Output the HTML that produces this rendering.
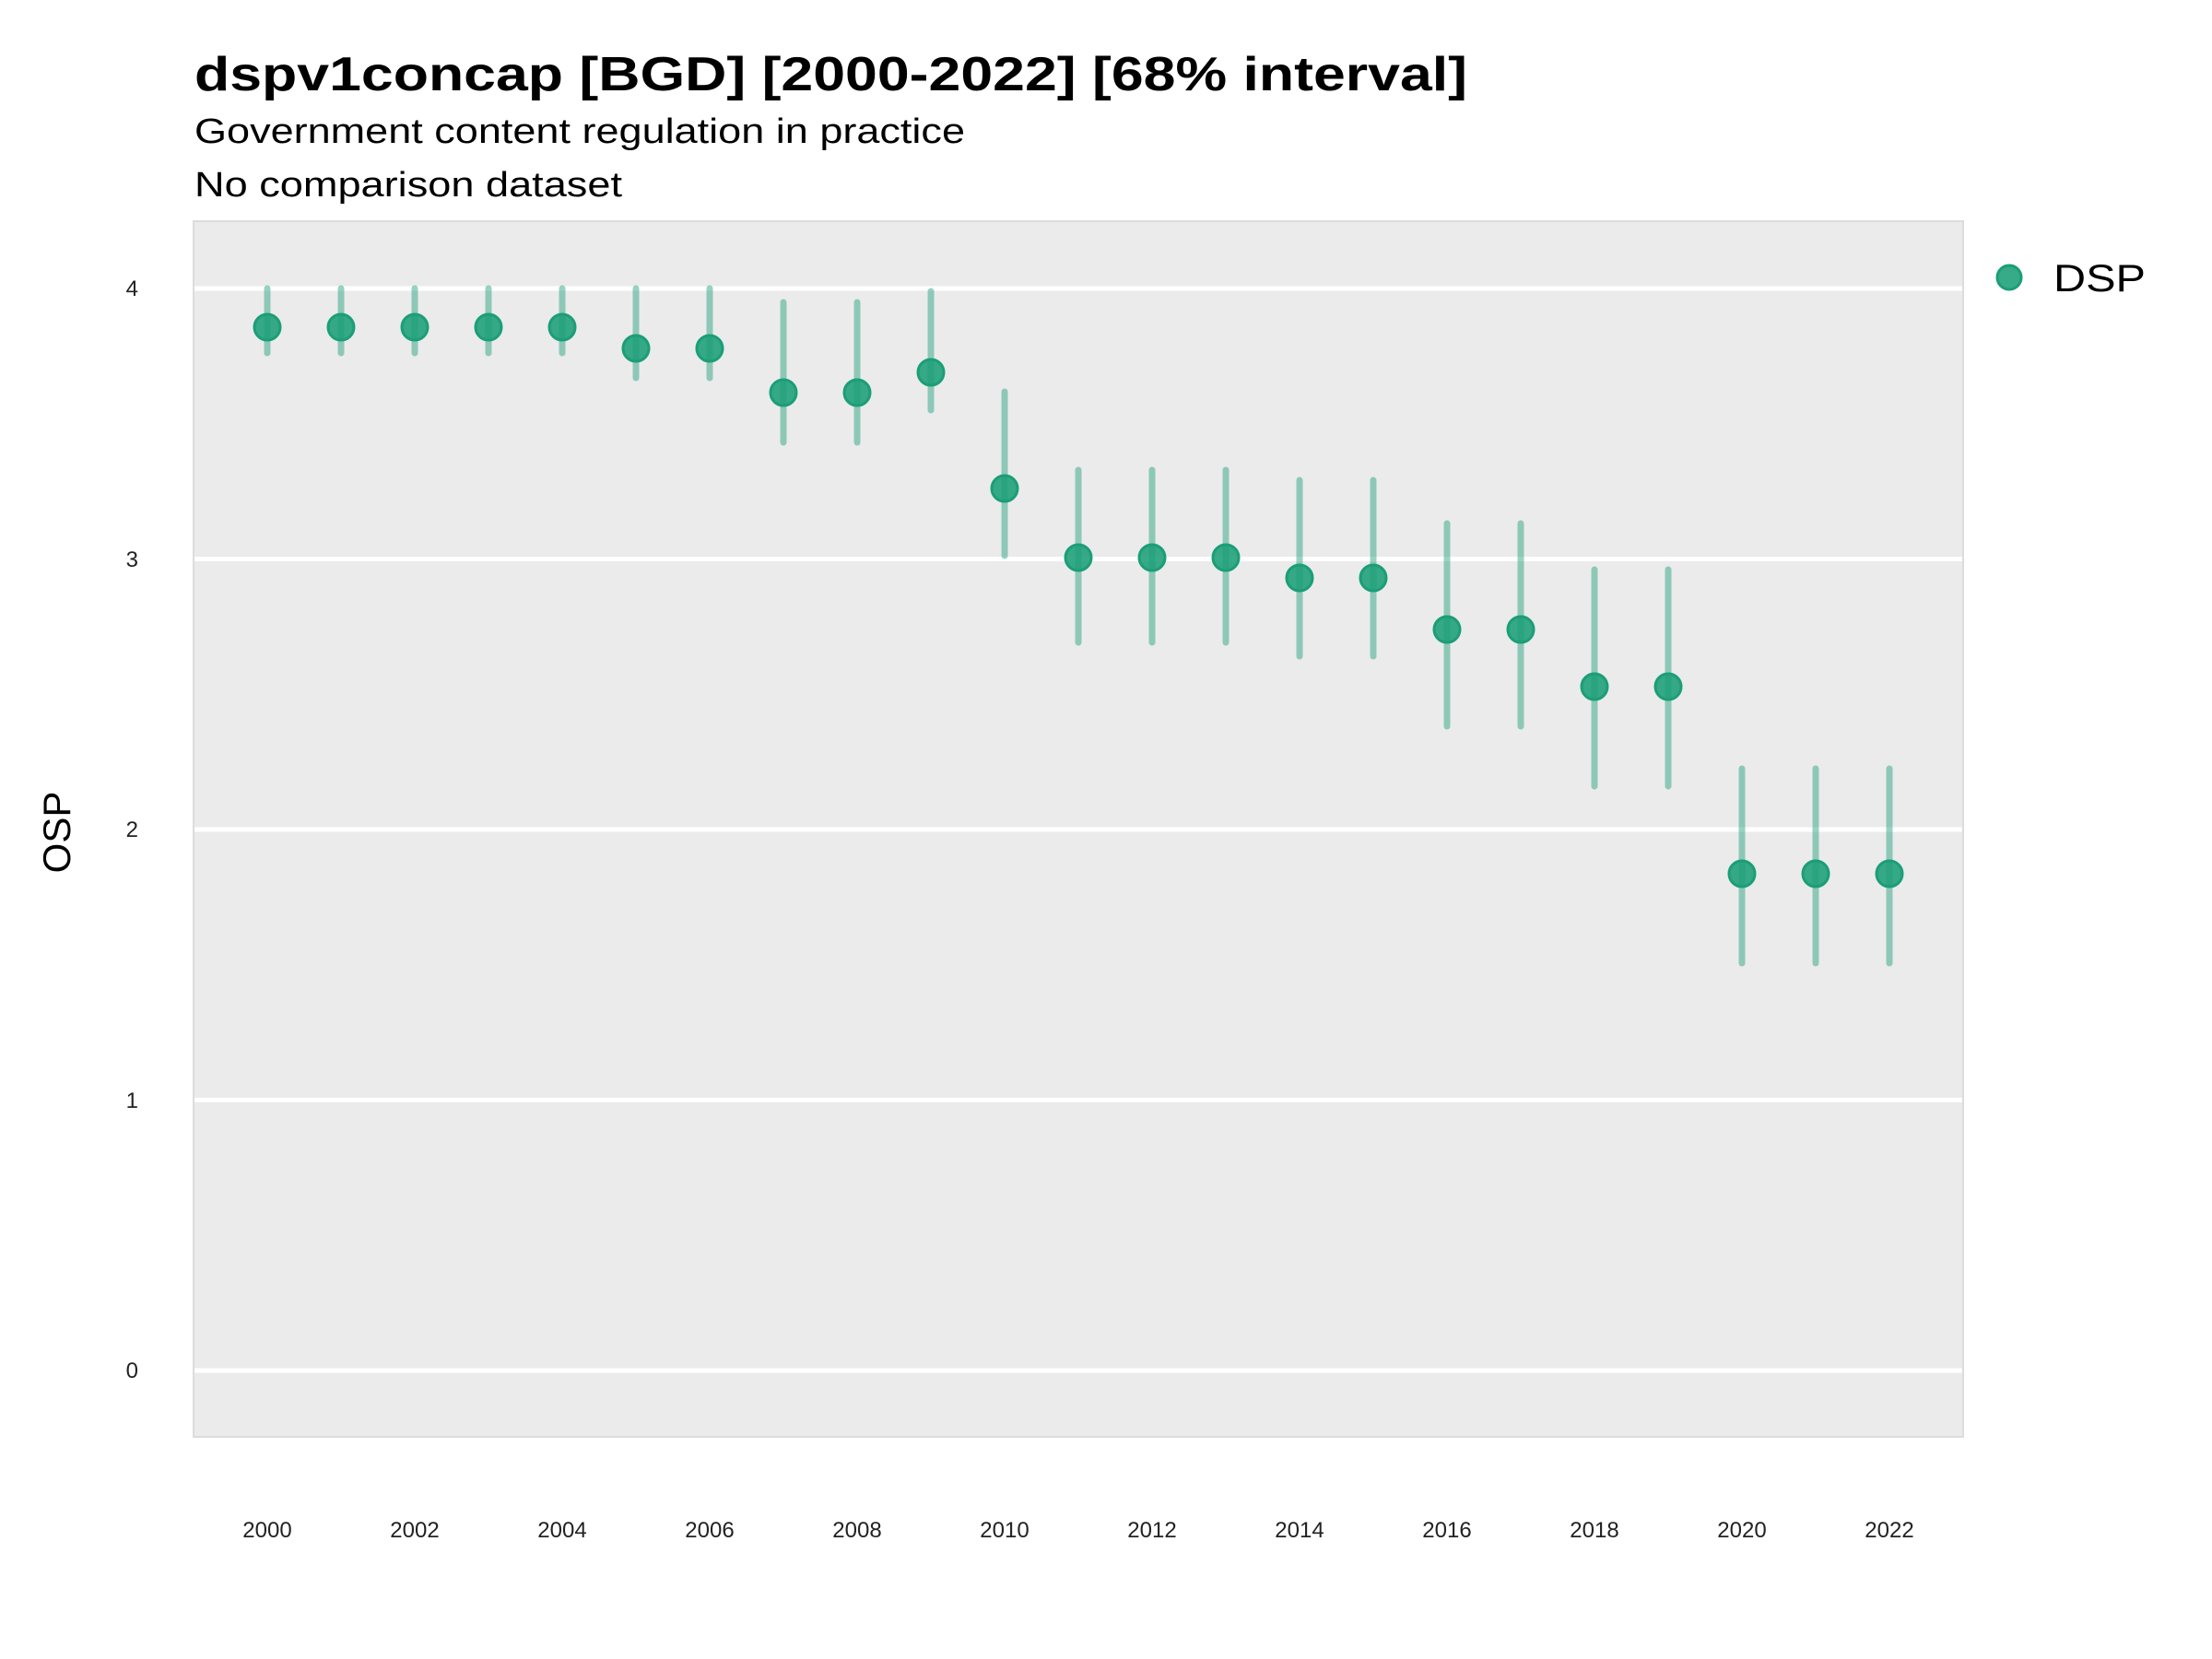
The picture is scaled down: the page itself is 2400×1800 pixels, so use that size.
<!DOCTYPE html>
<html><head><meta charset="utf-8"><style>
html,body{margin:0;padding:0;background:#fff;}
svg{display:block;font-family:"Liberation Sans",sans-serif;}
</style></head><body>
<svg width="2400" height="1800" viewBox="0 0 2400 1800" xmlns="http://www.w3.org/2000/svg">
<rect width="2400" height="1800" fill="#fff"/>
<text x="211" y="98" font-size="52" font-weight="bold" textLength="1381" lengthAdjust="spacingAndGlyphs">dspv1concap [BGD] [2000-2022] [68% interval]</text>
<text x="211" y="155" font-size="38" textLength="836" lengthAdjust="spacingAndGlyphs">Government content regulation in practice</text>
<text x="211" y="213" font-size="38" textLength="464" lengthAdjust="spacingAndGlyphs">No comparison dataset</text>
<rect x="210" y="240" width="1920" height="1319" fill="#ebebeb" stroke="#dcdcdc" stroke-width="2"/>
<g stroke="#fff" stroke-width="5">
<line x1="211" x2="2129" y1="313" y2="313"/>
<line x1="211" x2="2129" y1="606.5" y2="606.5"/>
<line x1="211" x2="2129" y1="900" y2="900"/>
<line x1="211" x2="2129" y1="1193.5" y2="1193.5"/>
<line x1="211" x2="2129" y1="1487" y2="1487"/>
</g>
<g font-size="24" text-anchor="end" fill="#222">
<text x="150" y="321">4</text>
<text x="150" y="615">3</text>
<text x="150" y="908">2</text>
<text x="150" y="1202">1</text>
<text x="150" y="1495">0</text>
</g>
<text transform="translate(76,903) rotate(-90)" font-size="42" text-anchor="middle">OSP</text>
<g font-size="24" text-anchor="middle" fill="#222">
<text x="290" y="1668">2000</text><text x="450" y="1668">2002</text><text x="610" y="1668">2004</text>
<text x="770" y="1668">2006</text><text x="930" y="1668">2008</text><text x="1090" y="1668">2010</text>
<text x="1250" y="1668">2012</text><text x="1410" y="1668">2014</text><text x="1570" y="1668">2016</text>
<text x="1730" y="1668">2018</text><text x="1890" y="1668">2020</text><text x="2050" y="1668">2022</text>
</g>
<g stroke="#1b9e77" stroke-opacity="0.45" stroke-width="7" stroke-linecap="round">
<line x1="290" x2="290" y1="313" y2="383"/>
<line x1="370" x2="370" y1="313" y2="383"/>
<line x1="450" x2="450" y1="313" y2="383"/>
<line x1="530" x2="530" y1="313" y2="383"/>
<line x1="610" x2="610" y1="313" y2="383"/>
<line x1="690" x2="690" y1="313" y2="410"/>
<line x1="770" x2="770" y1="313" y2="410"/>
<line x1="850" x2="850" y1="328" y2="480"/>
<line x1="930" x2="930" y1="328" y2="480"/>
<line x1="1010" x2="1010" y1="316" y2="445"/>
<line x1="1090" x2="1090" y1="425" y2="603"/>
<line x1="1170" x2="1170" y1="510" y2="697"/>
<line x1="1250" x2="1250" y1="510" y2="697"/>
<line x1="1330" x2="1330" y1="510" y2="697"/>
<line x1="1410" x2="1410" y1="521" y2="712"/>
<line x1="1490" x2="1490" y1="521" y2="712"/>
<line x1="1570" x2="1570" y1="568" y2="788"/>
<line x1="1650" x2="1650" y1="568" y2="788"/>
<line x1="1730" x2="1730" y1="618" y2="853"/>
<line x1="1810" x2="1810" y1="618" y2="853"/>
<line x1="1890" x2="1890" y1="834" y2="1045"/>
<line x1="1970" x2="1970" y1="834" y2="1045"/>
<line x1="2050" x2="2050" y1="834" y2="1045"/>
</g>
<g fill="#1b9e77" fill-opacity="0.88" stroke="#1b9e77" stroke-width="3">
<circle cx="290" cy="355" r="14"/><circle cx="370" cy="355" r="14"/><circle cx="450" cy="355" r="14"/>
<circle cx="530" cy="355" r="14"/><circle cx="610" cy="355" r="14"/>
<circle cx="690" cy="378" r="14"/><circle cx="770" cy="378" r="14"/>
<circle cx="850" cy="426" r="14"/><circle cx="930" cy="426" r="14"/>
<circle cx="1010" cy="404" r="14"/><circle cx="1090" cy="530" r="14"/>
<circle cx="1170" cy="605" r="14"/><circle cx="1250" cy="605" r="14"/><circle cx="1330" cy="605" r="14"/>
<circle cx="1410" cy="627" r="14"/><circle cx="1490" cy="627" r="14"/>
<circle cx="1570" cy="683" r="14"/><circle cx="1650" cy="683" r="14"/>
<circle cx="1730" cy="745" r="14"/><circle cx="1810" cy="745" r="14"/>
<circle cx="1890" cy="948" r="14"/><circle cx="1970" cy="948" r="14"/><circle cx="2050" cy="948" r="14"/>
<circle cx="2180" cy="301" r="13"/>
</g>
<text x="2228" y="316" font-size="42" textLength="100" lengthAdjust="spacingAndGlyphs">DSP</text>
</svg>
</body></html>
